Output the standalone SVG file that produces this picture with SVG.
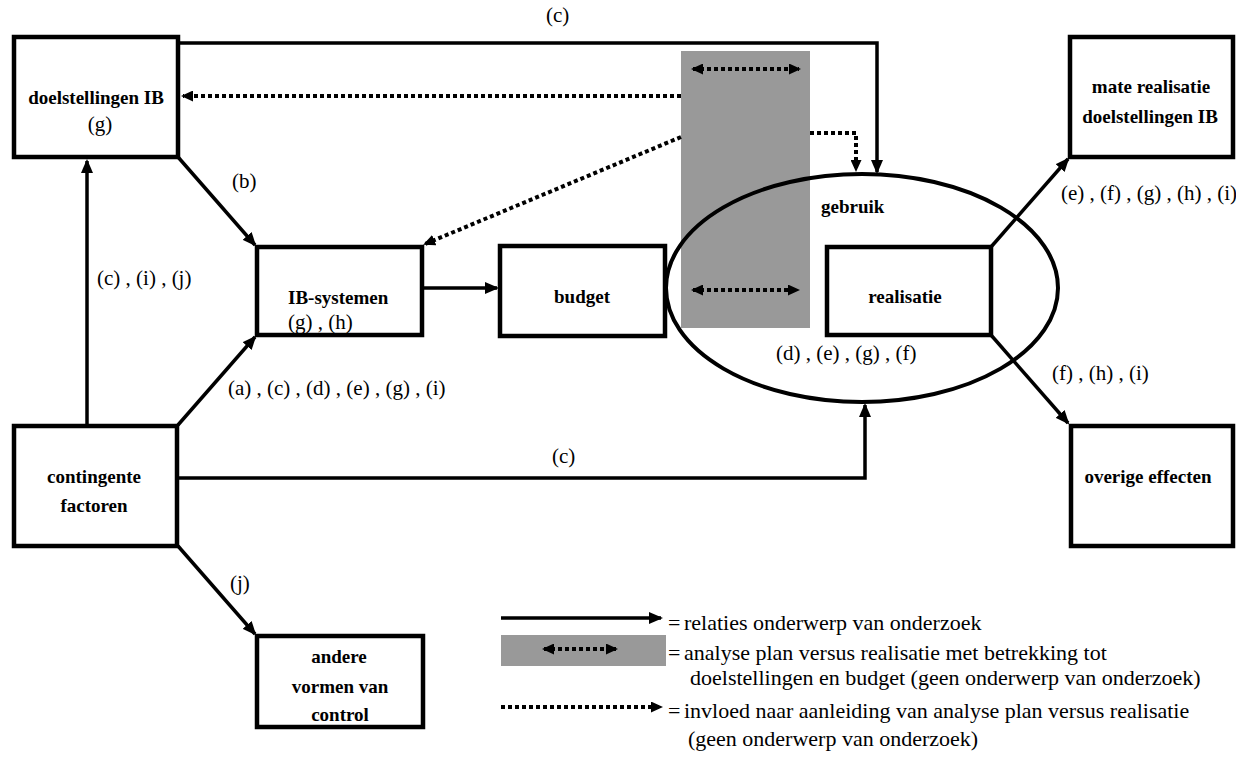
<svg xmlns="http://www.w3.org/2000/svg" width="1236" height="759" viewBox="0 0 1236 759">
<style>
.box{fill:#fff;stroke:#000;stroke-width:4.5}
.b{font-family:"Liberation Serif","Times New Roman",serif;font-weight:bold;font-size:19px;fill:#000}
.r{font-family:"Liberation Serif","Times New Roman",serif;font-size:21px;fill:#000}
.lg{font-family:"Liberation Serif","Times New Roman",serif;font-size:22px;fill:#000}
.sol{fill:none;stroke:#000;stroke-width:3.5}
.dot{fill:none;stroke:#000;stroke-width:4;stroke-dasharray:4 3}
.grey{fill:#999999}
</style>
<defs>
<marker id="arr" viewBox="0 0 14 12" markerWidth="14" markerHeight="12" refX="12" refY="6" orient="auto" markerUnits="userSpaceOnUse">
<path d="M0,0 L14,6 L0,12 z" fill="#000"/>
</marker>
<marker id="arrd" viewBox="0 0 12 11" markerWidth="12" markerHeight="11" refX="10" refY="5.5" orient="auto-start-reverse" markerUnits="userSpaceOnUse">
<path d="M0,0 L12,5.5 L0,11 z" fill="#000"/>
</marker>
</defs>

<g id="analysis-band">
<rect class="grey" x="681" y="51" width="129" height="277"/>
</g>

<g id="gebruik">
<ellipse cx="862" cy="288" rx="196" ry="114" fill="none" stroke="#000" stroke-width="4"/>
<text class="b" x="821" y="213">gebruik</text>
<text class="r" x="776" y="360">(d) , (e) , (g) , (f)</text>
</g>

<g id="connectors">
<path class="sol" d="M178,43 H877 V172" marker-end="url(#arr)"/>
<path class="sol" d="M178,157 L255,245" marker-end="url(#arr)"/>
<path class="sol" d="M87,425 V161" marker-end="url(#arr)"/>
<path class="sol" d="M178,425 L255,337" marker-end="url(#arr)"/>
<path class="sol" d="M422,288 H497" marker-end="url(#arr)"/>
<path class="sol" d="M178,478 H865 V405" marker-end="url(#arr)"/>
<path class="sol" d="M178,546 L255,634" marker-end="url(#arr)"/>
<path class="sol" d="M991,247 L1068,159" marker-end="url(#arr)"/>
<path class="sol" d="M991,335 L1068,423" marker-end="url(#arr)"/>
<path class="dot" d="M681,96 H183" marker-end="url(#arrd)"/>
<path class="dot" d="M681,137 L425,244" marker-end="url(#arrd)"/>
<path class="dot" d="M810,133 H856 V170" marker-end="url(#arrd)"/>
<path class="dot" d="M693,69 H799" marker-start="url(#arrd)" marker-end="url(#arrd)"/>
<path class="dot" d="M693,290 H798" marker-start="url(#arrd)" marker-end="url(#arrd)"/>
<text class="r" x="546" y="22">(c)</text>
<text class="r" x="232" y="188">(b)</text>
<text class="r" x="97" y="285">(c) , (i) , (j)</text>
<text class="r" x="228" y="395">(a) , (c) , (d) , (e) , (g) , (i)</text>
<text class="r" x="552" y="463">(c)</text>
<text class="r" x="1061" y="200">(e) , (f) , (g) , (h) , (i)</text>
<text class="r" x="1052" y="380">(f) , (h) , (i)</text>
<text class="r" x="230" y="590">(j)</text>
</g>

<g id="doelstellingen">
<rect class="box" x="14" y="37" width="164" height="120"/>
<text class="b" x="96" y="104" text-anchor="middle">doelstellingen IB</text>
<text class="r" x="100" y="131" text-anchor="middle">(g)</text>
</g>

<g id="ib-systemen">
<rect class="box" x="257" y="247" width="165" height="88"/>
<text class="b" x="288" y="304">IB-systemen</text>
<text class="r" x="288" y="329">(g) , (h)</text>
</g>

<g id="budget">
<rect class="box" x="500" y="246" width="165" height="90"/>
<text class="b" x="582" y="303" text-anchor="middle">budget</text>
</g>

<g id="realisatie">
<rect class="box" x="827" y="247" width="164" height="88"/>
<text class="b" x="905" y="303" text-anchor="middle">realisatie</text>
</g>

<g id="mate-realisatie">
<rect class="box" x="1070" y="37" width="163" height="120"/>
<text class="b" x="1151" y="93" text-anchor="middle">mate realisatie</text>
<text class="b" x="1150" y="123" text-anchor="middle">doelstellingen IB</text>
</g>

<g id="overige-effecten">
<rect class="box" x="1071" y="426" width="162" height="120"/>
<text class="b" x="1148" y="483" text-anchor="middle">overige effecten</text>
</g>

<g id="contingente-factoren">
<rect class="box" x="14" y="426" width="163" height="120"/>
<text class="b" x="94" y="483" text-anchor="middle">contingente</text>
<text class="b" x="94" y="512" text-anchor="middle">factoren</text>
</g>

<g id="andere-vormen">
<rect class="box" x="257" y="636" width="166" height="91"/>
<text class="b" x="339" y="663" text-anchor="middle">andere</text>
<text class="b" x="340" y="693" text-anchor="middle">vormen van</text>
<text class="b" x="340" y="721" text-anchor="middle">control</text>
</g>

<g id="legend">
<path class="sol" d="M501,618 H661" marker-end="url(#arr)"/>
<rect class="grey" x="501" y="635" width="165" height="31"/>
<path class="dot" d="M544,649 H616" marker-start="url(#arrd)" marker-end="url(#arrd)"/>
<path class="dot" d="M501,707 H661" marker-end="url(#arrd)"/>
<text class="lg" x="668" y="630">=</text>
<text class="lg" x="684" y="630">relaties onderwerp van onderzoek</text>
<text class="lg" x="668" y="660">=</text>
<text class="lg" x="684" y="660">analyse plan versus realisatie met betrekking tot</text>
<text class="lg" x="690" y="685">doelstellingen en budget (geen onderwerp van onderzoek)</text>
<text class="lg" x="668" y="718">=</text>
<text class="lg" x="684" y="718">invloed naar aanleiding van analyse plan versus realisatie</text>
<text class="lg" x="688" y="746">(geen onderwerp van onderzoek)</text>
</g>
</svg>
